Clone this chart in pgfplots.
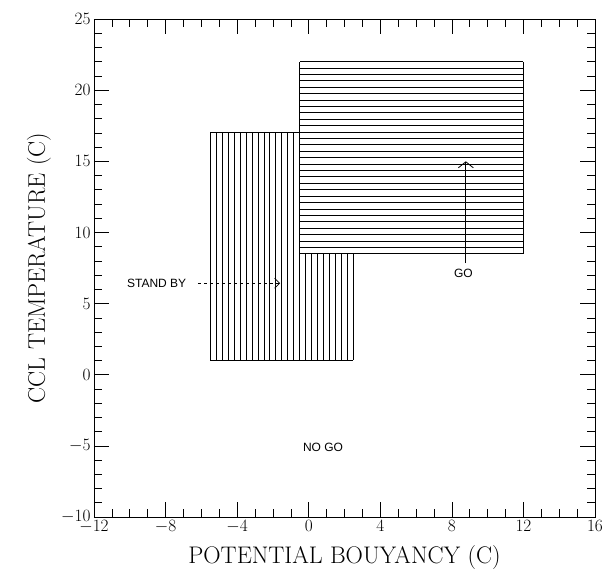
\documentclass[border=0pt]{standalone}
\usepackage{fontspec}
\newfontfamily\plotfont{Liberation Sans}
\usepackage{pgfplots}
\pgfplotsset{compat=1.18}
\usepackage{pgfplotstable}
\usetikzlibrary{arrows.meta}

% vertical hatch lines: x, centre y, half length
\pgfplotstableread{
x yc e
-5.5 9 8
-5.1667 9 8
-4.8333 9 8
-4.5 9 8
-4.1667 9 8
-3.8333 9 8
-3.5 9 8
-3.1667 9 8
-2.8333 9 8
-2.5 9 8
-2.1667 9 8
-1.8333 9 8
-1.5 9 8
-1.1667 9 8
-0.8333 9 8
-0.5 9 8
-0.1667 4.75 3.75
0.1667 4.75 3.75
0.5 4.75 3.75
0.8333 4.75 3.75
1.1667 4.75 3.75
1.5 4.75 3.75
1.8333 4.75 3.75
2.1667 4.75 3.75
2.5 4.75 3.75
-0.5 15.25 6.75
12 15.25 6.75
}\vlines

% horizontal hatch lines: y, centre x, half length
\pgfplotstableread{
y xc e
8.5 5.75 6.25
8.95 5.75 6.25
9.4 5.75 6.25
9.85 5.75 6.25
10.3 5.75 6.25
10.75 5.75 6.25
11.2 5.75 6.25
11.65 5.75 6.25
12.1 5.75 6.25
12.55 5.75 6.25
13.0 5.75 6.25
13.45 5.75 6.25
13.9 5.75 6.25
14.35 5.75 6.25
14.8 5.75 6.25
15.25 5.75 6.25
15.7 5.75 6.25
16.15 5.75 6.25
16.6 5.75 6.25
17.05 5.75 6.25
17.5 5.75 6.25
17.95 5.75 6.25
18.4 5.75 6.25
18.85 5.75 6.25
19.3 5.75 6.25
19.75 5.75 6.25
20.2 5.75 6.25
20.65 5.75 6.25
21.1 5.75 6.25
21.55 5.75 6.25
22.0 5.75 6.25
1 -1.5 4
17 -3 2.5
}\hlines

\begin{document}
\begin{tikzpicture}
\useasboundingbox (-94pt,-57pt) rectangle (511pt,517pt);
\begin{axis}[
    scale only axis,
    width=501pt, height=498pt,
    xmin=-12, xmax=16, ymin=-10, ymax=25,
    xtick={-12,-8,...,16}, ytick={-10,-5,...,25},
    minor x tick num=3, minor y tick num=4,
    tick align=inside,
    major tick length=15pt, minor tick length=8pt,
    tick style={black, line width=0.6pt},
    axis line style={line width=0.8pt},
    ticklabel style={font=\fontsize{19}{19}\selectfont},
    label style={font=\fontsize{24}{24}\selectfont},
    xlabel={POTENTIAL BOUYANCY (C)},
    ylabel={CCL TEMPERATURE (C)},
    xlabel style={at={(axis description cs:0.5,-0.082)}, anchor=center},
    ylabel style={at={(axis description cs:-0.11,0.5)}, anchor=center},
]
    % STAND BY region
    \addplot[draw=none, no markers,
        error bars/.cd, y dir=both, y explicit, error mark=none,
        error bar style={draw=black, solid, line width=0.9pt}]
        table[x=x, y=yc, y error=e] {\vlines};
    % GO region
    \addplot[draw=none, no markers,
        error bars/.cd, x dir=both, x explicit, error mark=none,
        error bar style={draw=black, solid, line width=0.9pt}]
        table[x=xc, y=y, x error=e] {\hlines};

    \addplot[black, dashed, line width=0.7pt,
        -{Straight Barb[length=5pt, width=10pt]}]
        coordinates {(-6.2,6.43) (-1.6,6.43)};
    \addplot[black, line width=0.8pt,
        -{Straight Barb[length=6pt, width=15pt]}]
        coordinates {(8.78,7.85) (8.78,15.0)};

    \node[font=\plotfont\fontsize{12}{12}\selectfont] at (axis cs:-8.5,6.43) {STAND BY};
    \node[font=\plotfont\fontsize{12}{12}\selectfont] at (axis cs:8.65,7.13) {GO};
    \node[font=\plotfont\fontsize{12}{12}\selectfont] at (axis cs:0.8,-5.08) {NO GO};
\end{axis}
\end{tikzpicture}
\end{document}
